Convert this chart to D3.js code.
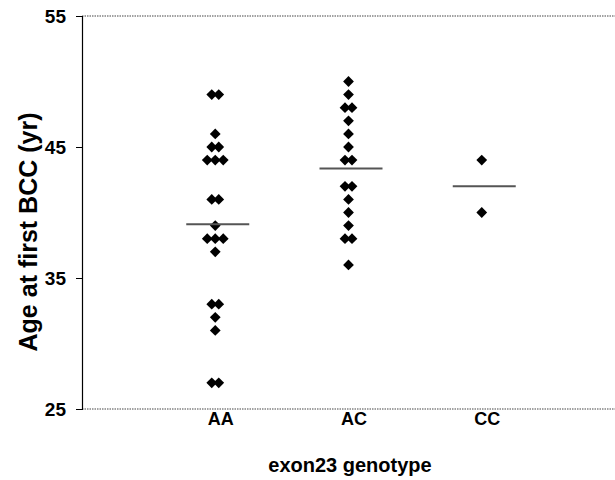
<!DOCTYPE html>
<html><head><meta charset="utf-8">
<script src="https://cdn.jsdelivr.net/npm/d3@7"></script>
<style>body{margin:0;background:#fff;font-family:"Liberation Sans",Arial,sans-serif;}</style>
</head><body>
<svg id="c" width="615" height="480"></svg>
<script>
const categories = ["AA", "AC", "CC"];
const valuesAA = [49,49,46,45,45,44,44,44,41,41,39,38,38,38,37,33,33,32,31,27,27];
const valuesAC = [50,49,48,48,47,46,45,44,44,42,42,41,40,39,38,38,36];
const valuesCC = [44,40];
const yTicks = [25, 35, 45, 55];
const yTitle = "Age at first BCC (yr)";
const xTitle = "exon23 genotype";

const series = [valuesAA, valuesAC, valuesCC];
const svg = d3.select("#c");
const x = d3.scalePoint().domain(categories).range([82, 615]).padding(1);
const y = d3.scaleLinear().domain([25, 55]).range([409, 16]);

// frame lines
svg.append("line").attr("x1", 82).attr("x2", 615).attr("y1", y(55)).attr("y2", y(55))
  .attr("stroke", "#444").attr("stroke-width", 1.2).attr("stroke-dasharray", "1.5,1");
svg.append("line").attr("x1", 82).attr("x2", 615).attr("y1", y(25)).attr("y2", y(25))
  .attr("stroke", "#444").attr("stroke-width", 1.2).attr("stroke-dasharray", "1.5,1");

// y axis
const ya = svg.append("g").attr("transform", "translate(82,0)")
  .call(d3.axisLeft(y).tickValues(yTicks).tickSize(6).tickPadding(10).tickFormat(d3.format("d")));
ya.select(".domain").attr("stroke", "#000").attr("stroke-width", 1.2);
ya.selectAll(".tick line").attr("stroke", "#000");
ya.selectAll(".tick text").attr("font-size", 19).attr("font-weight", "bold")
  .attr("font-family", "Liberation Sans, Arial, sans-serif").attr("fill", "#000");

// x labels
const xa = svg.append("g").attr("transform", `translate(0,${y(25)})`)
  .call(d3.axisBottom(x).tickSize(0).tickPadding(3));
xa.select(".domain").remove();
xa.selectAll(".tick text").attr("font-size", 18).attr("font-weight", "bold").attr("dx", 5)
  .attr("font-family", "Liberation Sans, Arial, sans-serif").attr("fill", "#000");

// points
const diamond = d3.symbol().type(d3.symbolSquare).size(58);
series.forEach((vals, i) => {
  const counts = d3.rollup(vals, v => v.length, d => d);
  const seen = new Map();
  vals.forEach(v => {
    const n = counts.get(v);
    const k = seen.get(v) || 0;
    seen.set(v, k + 1);
    const off = (k - (n - 1) / 2) * (n === 2 ? 7 : 8);
    svg.append("path").attr("d", diamond)
      .attr("transform", `translate(${x(categories[i]) + off},${y(v)}) rotate(45)`)
      .attr("fill", "#000");
  });
  const m = d3.mean(vals);
  svg.append("line").attr("x1", x(categories[i]) - 29).attr("x2", x(categories[i]) + 34)
    .attr("y1", y(m)).attr("y2", y(m)).attr("stroke", "#555").attr("stroke-width", 2);
});

// titles
svg.append("text").attr("transform", `translate(37,${232}) rotate(-90)`)
  .attr("text-anchor", "middle").attr("font-size", 25).attr("font-weight", "bold")
  .attr("font-family", "Liberation Sans, Arial, sans-serif").text(yTitle);
svg.append("text").attr("x", 350).attr("y", 472)
  .attr("text-anchor", "middle").attr("font-size", 20).attr("font-weight", "bold")
  .attr("font-family", "Liberation Sans, Arial, sans-serif").text(xTitle);
</script>
</body></html>
